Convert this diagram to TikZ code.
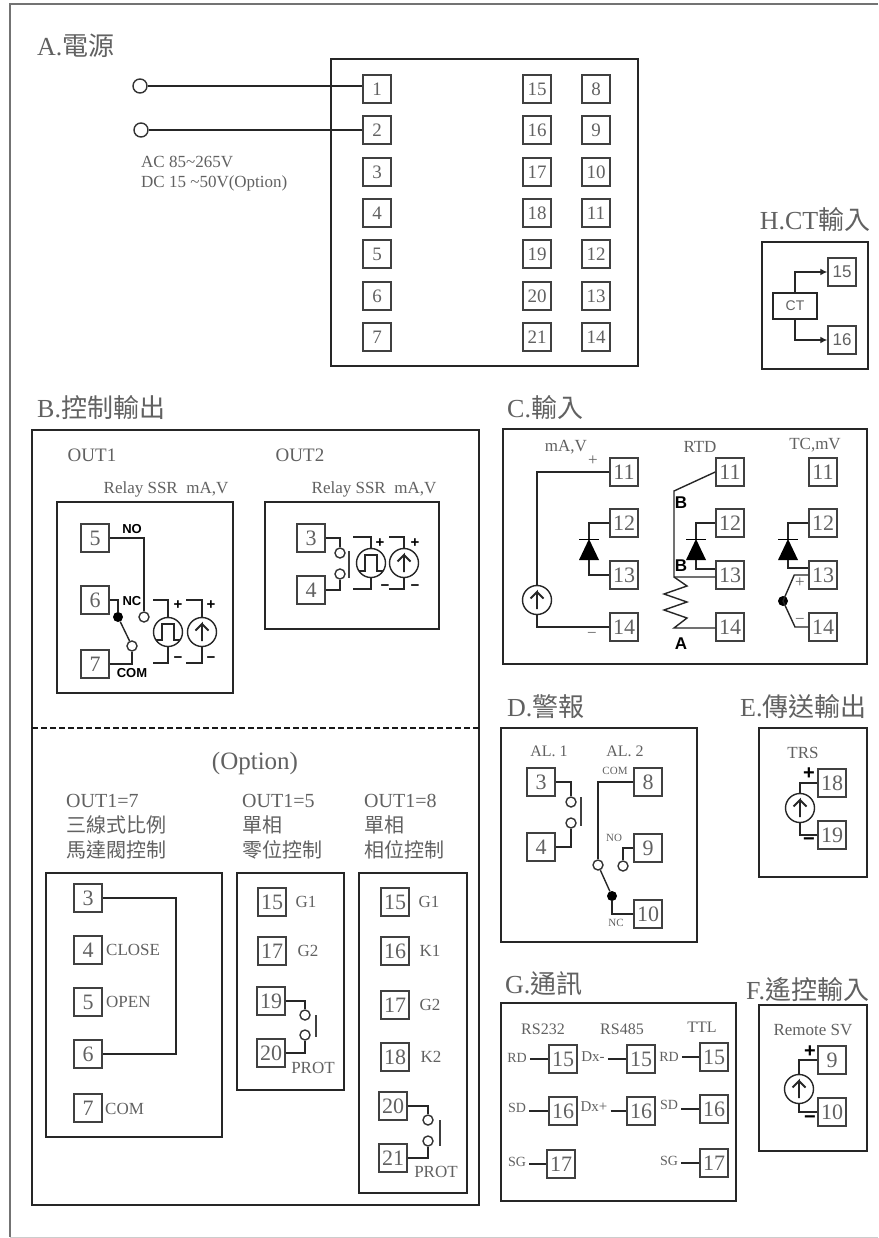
\documentclass[tikz,border=0pt]{standalone}
\usepackage{fontspec}
\setmainfont{Liberation Serif}
\newfontfamily\cjk{Noto Sans CJK TC}
\newfontfamily\arialf{Liberation Sans}
\newcommand{\fsz}[1]{\fontsize{#1}{#1}\selectfont}
\usetikzlibrary{calc,arrows.meta}

\begin{document}
\begin{tikzpicture}[x=1pt,y=-1pt,inner sep=0pt,
  every node/.style={text=black!62},
  wire/.style={draw=black!85,line width=1.4pt},
  panel/.style={draw=black!85,line width=1.5pt},
  term/.style={draw=black!75,line width=1.5pt,minimum size=28pt,font=\fsz{22}},
  termm/.style={term,font=\fsz{19}},
  ttl/.style={font=\fsz{26},anchor=west},
  lab/.style={font=\fsz{17}},
  labs/.style={font=\fsz{11}},
  hd/.style={font=\fsz{19}},
  hdl/.style={font={\fontsize{20}{25}\selectfont},align=left,anchor=west},
  sig/.style={font=\arialf\bfseries\fsz{15},text=black},
  ctc/.style={circle,draw=black!80,line width=1.4pt,fill=white,minimum size=10pt},
  dotc/.style={circle,fill=black,minimum size=10pt},
  rbar/.style={fill=black!75,minimum width=1.8pt},
  isrc/.style={circle,draw=black!85,line width=1.4pt,minimum size=29pt,path picture={
    \draw[line width=1.9pt,black!85] (path picture bounding box.center) ++(0,9) -- ++(0,-17) -- ++(-6.5,6.5) ++(6.5,-6.5) -- ++(6.5,6.5);}},
  psrc/.style={circle,draw=black!85,line width=1.4pt,minimum size=29pt,path picture={
    \draw[line width=1.4pt,black!85] (path picture bounding box.center) ++(-14,8) -- ++(8,0) -- ++(0,-16) -- ++(12,0) -- ++(0,16) -- ++(8,0);}},
  dio/.style={minimum width=20pt,minimum height=21pt,path picture={
    \fill (path picture bounding box.north) -- (path picture bounding box.south west) -- (path picture bounding box.south east) -- cycle;
    \draw[line width=2.6pt] (path picture bounding box.north west) -- (path picture bounding box.north east);}}]
  \useasboundingbox (0,0) rectangle (878,1238);
  \fill[white] (0,0) rectangle (878,1238);
  %outer frame
  \draw[black!55,line width=2pt] (878,4) -- (10,4) -- (10,1237);
  \draw[black!20,line width=1pt] (10,1237) -- (878,1237);

  %A power
  \node[ttl] (tla) at (37,46) {A.{\cjk 電源}};
  \draw[panel] (331,59) rectangle (638,366);
  \node[ctc,minimum size=14pt] (pw1) at (140,86) {};
  \node[ctc,minimum size=14pt] (pw2) at (141,130) {};
  \node[termm] (a1) at (377,89) {1};
  \node[termm] (a2) at (377,130) {2};
  \node[termm] (a3) at (377,172) {3};
  \node[termm] (a4) at (377,213) {4};
  \node[termm] (a5) at (377,254) {5};
  \node[termm] (a6) at (377,296) {6};
  \node[termm] (a7) at (377,337) {7};
  \node[termm] (a15) at (537,89) {15};
  \node[termm] (a16) at (537,130) {16};
  \node[termm] (a17) at (537,172) {17};
  \node[termm] (a18) at (537,213) {18};
  \node[termm] (a19) at (537,254) {19};
  \node[termm] (a20) at (537,296) {20};
  \node[termm] (a21) at (537,337) {21};
  \node[termm] (a8) at (596,89) {8};
  \node[termm] (a9) at (596,130) {9};
  \node[termm] (a10) at (596,172) {10};
  \node[termm] (a11) at (596,213) {11};
  \node[termm] (a12) at (596,254) {12};
  \node[termm] (a13) at (596,296) {13};
  \node[termm] (a14) at (596,337) {14};
  \draw[wire] (pw1.east) -- (a1.west |- pw1.east);
  \draw[wire] (pw2.east) -- (a2.west);
  \node[lab,anchor=west] (acv) at (141,162) {AC 85\textasciitilde265V};
  \node[lab,anchor=west] (dcv) at (141,183) {DC 15 \textasciitilde50V(Option)};

  %H ct input
  \node[ttl,anchor=center] (tlh) at (815,220) {H.CT{\cjk 輸入}};
  \draw[panel] (762,242) rectangle (868,369);
  \node[draw=black!85,line width=1.4pt,minimum width=44pt,minimum height=26pt,font=\arialf\fsz{14}] (ct) at (795,306) {CT};
  \node[term,font=\arialf\fsz{17}] (h15) at (842,272) {15};
  \node[term,font=\arialf\fsz{17}] (h16) at (842,340) {16};
  \draw[wire,-{Latex[length=7pt,width=7pt]}] (ct.north) |- (h15.west);
  \draw[wire,-{Latex[length=7pt,width=7pt]}] (ct.south) |- (h16.west);

  %B control output
  \node[ttl] (tlb) at (37,408) {B.{\cjk 控制輸出}};
  \draw[panel] (32,430) rectangle (479,1205);
  \draw[black!90,line width=1.8pt,dash pattern=on 6pt off 3pt] (32,728) -- (479,728);
  %out1
  \node[hd] (o1) at (92,455) {OUT1};
  \node[lab] (o1t) at (166,489) {Relay SSR\ \ mA,V};
  \draw[panel] (57,502) rectangle (233,693);
  \node[term] (b5) at (95,538) {5};
  \node[term] (b6) at (95,600) {6};
  \node[term] (b7) at (95,664) {7};
  \node[sig,font=\arialf\bfseries\fsz{13}] (bno) at (132,529) {NO};
  \node[sig,font=\arialf\bfseries\fsz{13}] (bnc) at (132,601) {NC};
  \node[sig,font=\arialf\bfseries\fsz{13}] (bcm) at (132,673) {COM};
  \node[ctc] (c5) at (144,617) {};
  \node[dotc] (c6) at (118,617) {};
  \node[ctc] (c7) at (132,646) {};
  \draw[wire] (b5.east) -| (c5.north);
  \draw[wire] (b6.east) -| (c6.north);
  \draw[wire] (b7.east) -| (c7.south);
  \draw[wire] (c6) -- (c7);
  \node[psrc] (bp) at (168,632) {};
  \node[isrc] (bi) at (202,632) {};
  \coordinate (bp1) at (153,600);
  \coordinate (bp2) at (153,663);
  \coordinate (bi1) at (186,600);
  \coordinate (bi2) at (186,663);
  \draw[wire] (bp1) -| (bp.north);
  \draw[wire] (bp2) -| (bp.south);
  \draw[wire] (bi1) -| (bi.north);
  \draw[wire] (bi2) -| (bi.south);
  \node[sig] (bps) at (178,605) {+};
  \node[sig] (bis) at (211,605) {+};
  \node[sig] (bpm) at (178,660) {\textminus};
  \node[sig] (bim) at (211,660) {\textminus};
  %out2
  \node[hd] (o2) at (300,455) {OUT2};
  \node[lab] (o2t) at (374,489) {Relay SSR\ \ mA,V};
  \draw[panel] (265,502) rectangle (439,629);
  \node[term] (e3) at (311,538) {3};
  \node[term] (e4) at (311,590) {4};
  \node[ctc] (f3) at (340,553) {};
  \node[ctc] (f4) at (340,574) {};
  \node[rbar,minimum height=27pt] (fb) at (349,564) {};
  \draw[wire] (e3.east) -| (f3.north);
  \draw[wire] (e4.east) -| (f4.south);
  \node[psrc] (ep) at (371,563) {};
  \node[isrc] (ei) at (404,563) {};
  \coordinate (ep1) at (353,537);
  \coordinate (ep2) at (353,589);
  \coordinate (ei1) at (389,537);
  \coordinate (ei2) at (389,589);
  \draw[wire] (ep1) -| (ep.north);
  \draw[wire] (ep2) -| (ep.south);
  \draw[wire] (ei1) -| (ei.north);
  \draw[wire] (ei2) -| (ei.south);
  \node[sig] (eps) at (380,543) {+};
  \node[sig] (eis) at (415,543) {+};
  \node[sig] (epm) at (385,588) {\textminus};
  \node[sig] (eim) at (415,588) {\textminus};

  %option
  \node[font=\fsz{25}] (opt) at (255,763) {(Option)};
  \node[hdl] (h7) at (66,827) {OUT1=7\\{\cjk 三線式比例}\\{\cjk 馬達閥控制}};
  \node[hdl] (h5) at (242,827) {OUT1=5\\{\cjk 單相}\\{\cjk 零位控制}};
  \node[hdl] (h8) at (364,827) {OUT1=8\\{\cjk 單相}\\{\cjk 相位控制}};
  %three wire
  \draw[panel] (46,873) rectangle (222,1137);
  \node[term] (m3) at (88,898) {3};
  \node[term] (m4) at (88,950) {4};
  \node[term] (m5) at (88,1002) {5};
  \node[term] (m6) at (88,1054) {6};
  \node[term] (m7) at (88,1108) {7};
  \node[lab,anchor=west] (mcl) at (106,950) {CLOSE};
  \node[lab,anchor=west] (mop) at (106,1002) {OPEN};
  \node[lab,anchor=west] (mcm) at (105,1109) {COM};
  \coordinate (mr) at (176,980);
  \draw[wire] (m3.east) -| (mr) |- (m6.east);
  %zero cross
  \draw[panel] (237,873) rectangle (344,1090);
  \node[term] (z15) at (272,902) {15};
  \node[term] (z17) at (272,951) {17};
  \node[term] (z19) at (271,1001) {19};
  \node[term] (z20) at (271,1053) {20};
  \node[lab] (zg1) at (306,902) {G1};
  \node[lab] (zg2) at (308,951) {G2};
  \node[lab] (zpr) at (313,1068) {PROT};
  \node[ctc] (zc1) at (305,1015) {};
  \node[ctc] (zc2) at (305,1035) {};
  \node[rbar,minimum height=22pt] (zb) at (316,1026) {};
  \draw[wire] (z19.east) -| (zc1.north);
  \draw[wire] (z20.east) -| (zc2.south);
  %phase angle
  \draw[panel] (359,873) rectangle (467,1193);
  \node[term] (q15) at (395,902) {15};
  \node[term] (q16) at (395,951) {16};
  \node[term] (q17) at (395,1005) {17};
  \node[term] (q18) at (395,1057) {18};
  \node[term] (q20) at (393,1106) {20};
  \node[term] (q21) at (393,1158) {21};
  \node[lab] (qg1) at (429,902) {G1};
  \node[lab] (qk1) at (430,951) {K1};
  \node[lab] (qg2) at (430,1005) {G2};
  \node[lab] (qk2) at (431,1057) {K2};
  \node[lab] (qpr) at (436,1172) {PROT};
  \node[ctc] (qc1) at (428,1120) {};
  \node[ctc] (qc2) at (428,1141) {};
  \node[rbar,minimum height=26pt] (qb) at (440,1133) {};
  \draw[wire] (q20.east) -| (qc1.north);
  \draw[wire] (q21.east) -| (qc2.south);

  %C input
  \node[ttl] (tlc) at (507,408) {C.{\cjk 輸入}};
  \draw[panel] (503,429) rectangle (867,664);
  \node[lab] (cma) at (566,447) {mA,V};
  \node[lab] (crt) at (700,447) {RTD};
  \node[lab] (ctm) at (815,445) {TC,mV};
  %mA,V
  \node[term] (k11) at (624,472) {11};
  \node[term] (k12) at (624,523) {12};
  \node[term] (k13) at (624,575) {13};
  \node[term] (k14) at (624,627) {14};
  \node[isrc] (ks) at (537,600) {};
  \node[dio] (kd) at (589,549.5) {};
  \draw[wire] (k11.west) -| (ks.north);
  \draw[wire] (k14.west) -| (ks.south);
  \draw[wire] (k12.west) -| (kd.north);
  \draw[wire] (k13.west) -| (kd.south);
  \node[lab] (kp) at (593,461) {+};
  \node[lab] (km) at (592,635) {\textminus};
  %RTD
  \node[term] (r11) at (730,472) {11};
  \node[term] (r12) at (730,523) {12};
  \node[term] (r13) at (730,575) {13};
  \node[term] (r14) at (730,627) {14};
  \node[dio] (rd) at (696,549.5) {};
  \coordinate (rb1) at (674,491);
  \coordinate (rb2) at (674,577);
  \coordinate (ra) at (674,628);
  \draw[wire] (r11.west) -- (rb1) -- (rb2) -- (r13.west |- rb2);
  \draw[wire] (rb2) -- ++(13,9) -- ++(-23,8) -- ++(23,8) -- ++(-23,8) -- ++(23,8) -- (ra) -- (r14.west |- ra);
  \draw[wire] (r12.west) -| (rd.north);
  \draw[wire] ([yshift=6pt]r13.west) -| (rd.south);
  \node[sig,font=\arialf\bfseries\fsz{17}] (rlb1) at (681,503) {B};
  \node[sig,font=\arialf\bfseries\fsz{17}] (rlb2) at (681,566) {B};
  \node[sig,font=\arialf\bfseries\fsz{17}] (rla) at (681,644) {A};
  %TC,mV
  \node[term] (t11) at (823,472) {11};
  \node[term] (t12) at (823,523) {12};
  \node[term] (t13) at (823,575) {13};
  \node[term] (t14) at (823,627) {14};
  \node[dio] (td) at (788,549.5) {};
  \node[dotc] (tj) at (783,601) {};
  \draw[wire] (t12.west) -| (td.north);
  \draw[wire] ([yshift=7pt]t13.west) -| (td.south);
  \draw[wire] (t13.west) -- ++(-14,0) -- (tj.center) -- (795,627) -- (t14.west);
  \node[lab] (tp) at (800,583) {+};
  \node[lab] (tm) at (800,621) {\textminus};

  %D alarm
  \node[ttl] (tld) at (507,707) {D.{\cjk 警報}};
  \draw[panel] (501,728) rectangle (697,942);
  \node[lab,font=\fsz{16}] (al1) at (549,751) {AL. 1};
  \node[lab,font=\fsz{16}] (al2) at (625,751) {AL. 2};
  \node[term] (d3) at (541,782) {3};
  \node[term] (d4) at (541,847) {4};
  \node[term] (d8) at (648,782) {8};
  \node[term] (d9) at (648,848) {9};
  \node[term] (d10) at (648,914) {10};
  \node[ctc] (dc1) at (571,802) {};
  \node[ctc] (dc2) at (571,823) {};
  \node[rbar,minimum height=29pt] (db) at (581,811) {};
  \draw[wire] (d3.east) -| (dc1.north);
  \draw[wire] (d4.east) -| (dc2.south);
  \node[ctc] (dc3) at (598,865) {};
  \node[ctc] (dc4) at (623,866) {};
  \node[dotc] (dc5) at (612,896) {};
  \draw[wire] (d8.west) -| (dc3.north);
  \draw[wire] (d9.west) -| (dc4.north);
  \draw[wire] (d10.west) -| (dc5.south);
  \draw[wire] (dc3) -- (dc5);
  \node[labs] (dcm) at (615,771) {COM};
  \node[labs] (dno) at (614,838) {NO};
  \node[labs] (dnc) at (616,923) {NC};

  %E transmitter output
  \node[ttl] (tle) at (740,707) {E.{\cjk 傳送輸出}};
  \draw[panel] (759,728) rectangle (867,877);
  \node[lab] (trs) at (803,753) {TRS};
  \node[term] (x18) at (832,783) {18};
  \node[term] (x19) at (832,835) {19};
  \node[isrc] (xs) at (800,808) {};
  \draw[wire] (x18.west) -| (xs.north);
  \draw[wire] (x19.west) -| (xs.south);
  \node[sig,font=\arialf\bfseries\fsz{20}] (xp) at (809,774) {+};
  \node[sig,font=\arialf\bfseries\fsz{20}] (xm) at (809,842) {\textminus};

  %G communication
  \node[ttl] (tlg) at (505,984) {G.{\cjk 通訊}};
  \draw[panel] (501,1003) rectangle (736,1201);
  \node[lab,font=\fsz{16}] (g232) at (543,1029) {RS232};
  \node[lab,font=\fsz{16}] (g485) at (622,1029) {RS485};
  \node[lab,font=\fsz{16}] (gttl) at (702,1027) {TTL};
  \node[term] (g15) at (563,1059) {15};
  \node[term] (g16) at (563,1111) {16};
  \node[term] (g17) at (561,1164) {17};
  \node[term] (s15) at (641,1059) {15};
  \node[term] (s16) at (641,1111) {16};
  \node[term] (w15) at (714,1057) {15};
  \node[term] (w16) at (714,1109) {16};
  \node[term] (w17) at (714,1163) {17};
  \node[lab,font=\fsz{14},inner xsep=3pt] (grd) at (517,1058) {RD};
  \node[lab,font=\fsz{14},inner xsep=3pt] (gsd) at (517,1108) {SD};
  \node[lab,font=\fsz{14},inner xsep=3pt] (gsg) at (517,1162) {SG};
  \node[lab,font=\fsz{15},inner xsep=3pt] (sdm) at (593,1057) {Dx-};
  \node[lab,font=\fsz{15},inner xsep=3pt] (sdp) at (594,1107) {Dx+};
  \node[lab,font=\fsz{14},inner xsep=3pt] (wrd) at (669,1057) {RD};
  \node[lab,font=\fsz{14},inner xsep=3pt] (wsd) at (669,1105) {SD};
  \node[lab,font=\fsz{14},inner xsep=3pt] (wsg) at (669,1161) {SG};
  \draw[wire] (grd.east |- g15.west) -- (g15.west);
  \draw[wire] (gsd.east |- g16.west) -- (g16.west);
  \draw[wire] (gsg.east |- g17.west) -- (g17.west);
  \draw[wire] (sdm.east |- s15.west) -- (s15.west);
  \draw[wire] (sdp.east |- s16.west) -- (s16.west);
  \draw[wire] (wrd.east |- w15.west) -- (w15.west);
  \draw[wire] (wsd.east |- w16.west) -- (w16.west);
  \draw[wire] (wsg.east |- w17.west) -- (w17.west);

  %F remote input
  \node[ttl] (tlf) at (746,990) {F.{\cjk 遙控輸入}};
  \draw[panel] (759,1005) rectangle (867,1151);
  \node[lab] (rsv) at (813,1030) {Remote SV};
  \node[term] (y9) at (832,1060) {9};
  \node[term] (y10) at (832,1112) {10};
  \node[isrc] (ys) at (799,1089) {};
  \draw[wire] (y9.west) -| (ys.north);
  \draw[wire] (y10.west) -| (ys.south);
  \node[sig,font=\arialf\bfseries\fsz{20}] (yp) at (810,1052) {+};
  \node[sig,font=\arialf\bfseries\fsz{20}] (ym) at (810,1120) {\textminus};
\end{tikzpicture}
\end{document}
